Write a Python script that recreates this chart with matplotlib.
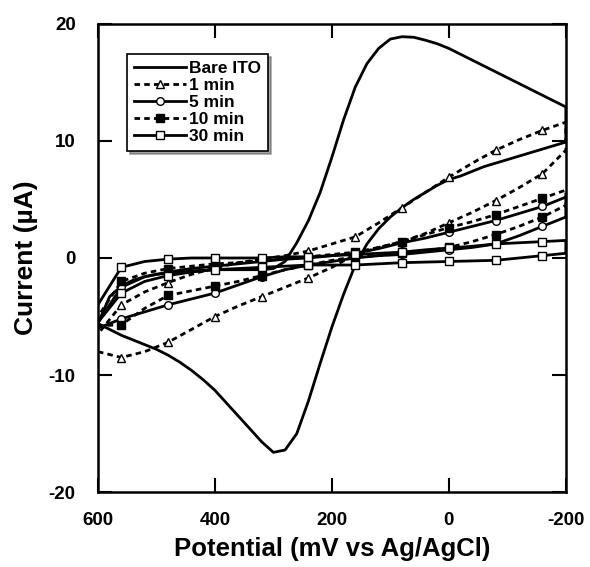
import numpy as np
import matplotlib.pyplot as plt

plt.rcParams['font.family'] = ['Liberation Sans', 'DejaVu Sans']
plt.rcParams['font.weight'] = 'bold'
plt.rcParams['axes.unicode_minus'] = False

# potential grid (mV) for the modified electrodes, 600 -> -200
potential = [600, 560, 520, 480, 440, 400, 360, 320, 280, 240, 200,
             160, 120, 80, 40, 0, -40, -80, -120, -160, -200]

# bare ITO on a finer grid (20 mV)
bare_potential = list(range(600, -201, -20))
bare_fwd = [-5.6, -6.1, -6.6, -7.0, -7.4, -7.8, -8.3, -8.9, -9.6, -10.4,
            -11.3, -12.4, -13.5, -14.6, -15.7, -16.6, -16.4, -15.0, -12.2, -9.0,
            -5.9, -3.1, -0.6, 1.2, 2.5, 3.5, 4.3, 5.0, 5.6, 6.2,
            6.7, 7.0, 7.4, 7.8, 8.1, 8.4, 8.7, 9.0, 9.3, 9.6, 9.9]
bare_rev = [-5.6, -3.3, -2.4, -1.9, -1.6, -1.4, -1.3, -1.2, -1.1, -1.05,
            -1.0, -1.0, -1.0, -1.0, -1.0, -0.9, -0.3, 1.3, 3.2, 5.6,
            8.6, 11.8, 14.6, 16.6, 17.9, 18.7, 18.9, 18.85, 18.6, 18.3,
            17.9, 17.4, 16.9, 16.4, 15.9, 15.4, 14.9, 14.4, 13.9, 13.4, 12.9]

# forward scan (600 -> -200) and reverse scan, both listed 600 -> -200
min1_fwd = [-8.0, -8.5, -8.0, -7.2, -6.1, -5.0, -4.1, -3.3, -2.5, -1.7, -0.8,
            0.3, 0.9, 1.4, 2.1, 3.0, 3.9, 4.9, 6.0, 7.2, 9.2]
min1_rev = [-6.5, -4.0, -2.9, -2.1, -1.4, -0.85, -0.4, -0.1, 0.2, 0.6, 1.2,
            1.8, 3.0, 4.3, 5.6, 6.9, 8.1, 9.2, 10.1, 10.9, 11.6]
min5_fwd = [-6.0, -5.2, -4.6, -4.0, -3.5, -3.0, -2.3, -1.6, -1.0, -0.6, -0.3,
            0.0, 0.2, 0.3, 0.5, 0.7, 0.9, 1.2, 1.9, 2.7, 3.5]
min5_rev = [-5.5, -2.5, -1.6, -1.2, -0.9, -0.7, -0.5, -0.3, -0.1, 0.0, 0.2,
            0.4, 0.8, 1.3, 1.7, 2.2, 2.7, 3.2, 3.8, 4.4, 5.2]
min10_fwd = [-5.8, -5.7, -4.3, -3.2, -2.8, -2.4, -2.0, -1.5, -1.0, -0.6, -0.2,
             0.1, 0.2, 0.4, 0.6, 0.9, 1.4, 2.0, 2.7, 3.5, 4.5]
min10_rev = [-5.0, -2.0, -1.3, -0.9, -0.7, -0.5, -0.4, -0.2, -0.1, 0.1, 0.3,
             0.5, 0.9, 1.4, 2.0, 2.6, 3.1, 3.7, 4.4, 5.1, 5.8]
min30_fwd = [-5.5, -3.0, -2.0, -1.5, -1.2, -1.0, -0.9, -0.8, -0.7, -0.6, -0.6,
             -0.6, -0.5, -0.4, -0.35, -0.3, -0.25, -0.2, 0.0, 0.2, 0.4]
min30_rev = [-4.0, -0.8, -0.3, -0.1, 0.0, 0.0, 0.0, 0.0, 0.1, 0.1, 0.2,
             0.3, 0.4, 0.5, 0.7, 0.85, 1.0, 1.2, 1.3, 1.4, 1.5]

labels = ["Bare ITO", "1 min", "5 min", "10 min", "30 min"]

fig = plt.figure(figsize=(5.9, 5.67), dpi=100)
ax = fig.add_axes([0.166, 0.132, 0.793, 0.826])

lw = 2.0
# bare ITO: closed loop, no markers
ax.plot(bare_potential + bare_potential[::-1], bare_fwd + bare_rev[::-1],
        color='black', lw=lw, label=labels[0])

n = len(potential)
marks = [i for i in range(1, n, 2)] + [n + i for i in range(1, n, 2)]
loop_x = potential + potential[::-1]

series = [
    (min1_fwd, min1_rev, '--', '^', 'white', 6),
    (min5_fwd, min5_rev, '-', 'o', 'white', 5.5),
    (min10_fwd, min10_rev, '--', 's', 'black', 6),
    (min30_fwd, min30_rev, '-', 's', 'white', 5.5),
]
for (fwd, rev, ls, mk, fc, ms), lab in zip(series, labels[1:]):
    line, = ax.plot(loop_x, fwd + rev[::-1], color='black', lw=lw, ls=ls,
                    marker=mk, mfc=fc, mec='black', mew=1.0, ms=ms,
                    markevery=marks, label=lab)
    if ls == '--':
        line.set_dashes((2.0, 1.5))

ax.set_xlim(600, -200)
ax.set_ylim(-20, 20)
ax.set_xticks([600, 400, 200, 0, -200])
ax.set_yticks([-20, -10, 0, 10, 20])
ax.tick_params(direction='in', length=10, width=1.5, top=True, right=True,
               labelsize=13.5)
ax.tick_params(axis='x', pad=14)
ax.tick_params(axis='y', pad=16)
for sp in ax.spines.values():
    sp.set_linewidth(1.8)

ax.set_xlabel("Potential (mV vs Ag/AgCl)", fontsize=18.5, fontweight='bold',
              labelpad=6)
ax.set_ylabel("Current (µA)", fontsize=19, fontweight='bold', labelpad=8)

leg = ax.legend(loc='upper left', bbox_to_anchor=(0.062, 0.935),
                borderaxespad=0, frameon=True, fancybox=False, shadow=True,
                handlelength=3.0, handletextpad=0.2,
                labelspacing=0.1, borderpad=0.4, numpoints=1,
                prop={'weight': 'bold', 'size': 12.5})
leg.get_frame().set_edgecolor('black')
leg.get_frame().set_linewidth(1.2)

fig.savefig("out.png", dpi=100)
